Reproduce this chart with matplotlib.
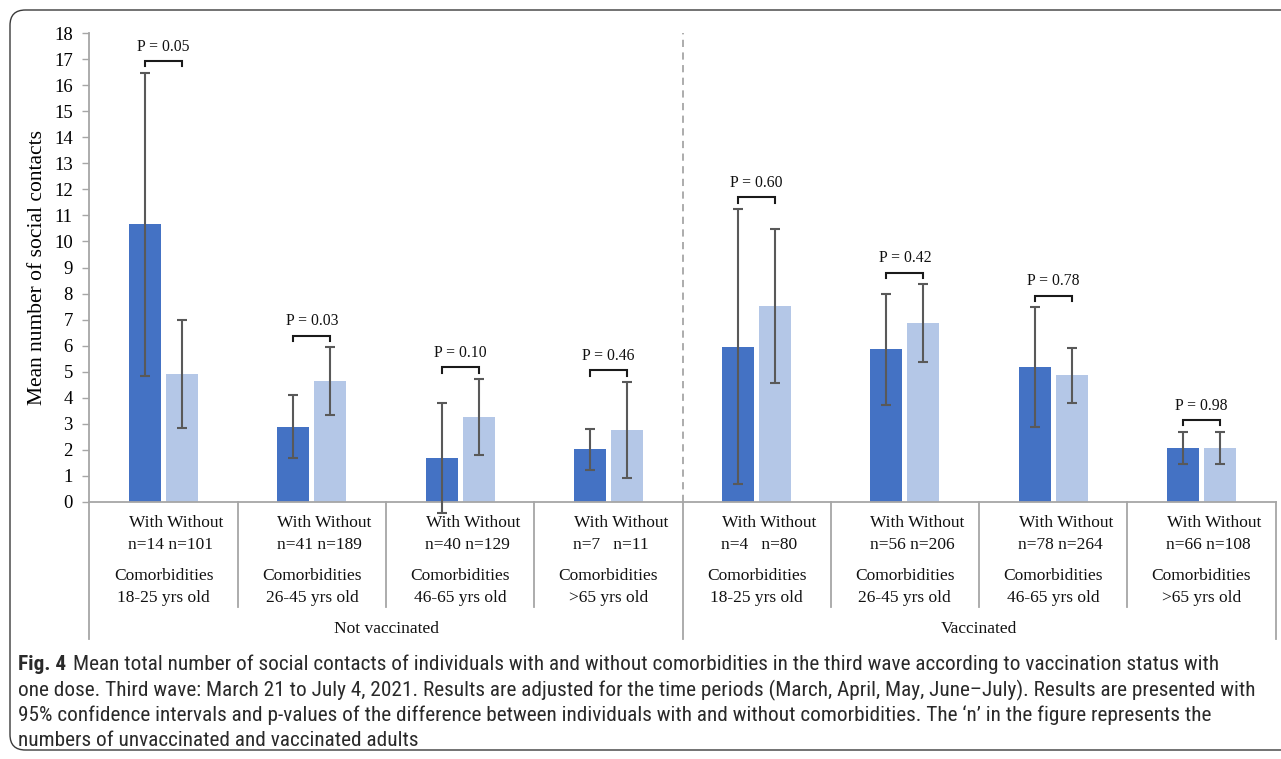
import matplotlib
matplotlib.use("Agg")
import matplotlib.pyplot as plt
from matplotlib import font_manager
from matplotlib.patches import FancyBboxPatch
import matplotlib.transforms as mtransforms

# ---- data -------------------------------------------------------------
age_groups = ["18-25 yrs old", "26-45 yrs old", "46-65 yrs old", ">65 yrs old"] * 2
n_labels = ["n=14 n=101", "n=41 n=189", "n=40 n=129", "n=7   n=11",
            "n=4   n=80", "n=56 n=206", "n=78 n=264", "n=66 n=108"]
status_labels = ["Not vaccinated", "Vaccinated"]

with_mean = [10.66, 2.89, 1.68, 2.02, 5.95, 5.86, 5.18, 2.07]
with_low = [4.83, 1.69, -0.43, 1.23, 0.69, 3.71, 2.89, 1.46]
with_high = [16.47, 4.10, 3.80, 2.80, 11.24, 7.99, 7.47, 2.69]

without_mean = [4.91, 4.64, 3.26, 2.76, 7.52, 6.87, 4.87, 2.07]
without_low = [2.83, 3.33, 1.80, 0.91, 4.58, 5.37, 3.79, 1.47]
without_high = [6.98, 5.94, 4.72, 4.60, 10.46, 8.35, 5.91, 2.69]

p_values = ["0.05", "0.03", "0.10", "0.46", "0.60", "0.42", "0.78", "0.98"]

# ---- styling ------------------------------------------------------------
SERIF = "Liberation Serif"
installed = {f.name for f in font_manager.fontManager.ttflist}
CAPTION_FONT = next((f for f in ["Roboto Condensed", "Liberation Sans Narrow",
                                 "Roboto", "Liberation Sans"] if f in installed),
                    "DejaVu Sans")

COL_WITH = "#4472C4"
COL_WITHOUT = "#B4C7E7"
GRID_GREY = "#A6A6A6"
ERR_GREY = "#595959"

W, H = 1281, 759
fig = plt.figure(figsize=(W / 100, H / 100), dpi=100)

ax_left, ax_right = 89.5 / W, 1275.5 / W
ax_top, ax_bottom = 1 - 33 / H, 1 - 502 / H
ax = fig.add_axes([ax_left, ax_bottom, ax_right - ax_left, ax_top - ax_bottom])

n_cat = len(with_mean)
x_with = [i + 0.375 for i in range(n_cat)]
x_without = [i + 0.625 for i in range(n_cat)]
bar_w = 0.215

ax.bar(x_with, with_mean, width=bar_w, color=COL_WITH, zorder=2)
ax.bar(x_without, without_mean, width=bar_w, color=COL_WITHOUT, zorder=2)

err_kw = dict(fmt="none", ecolor=ERR_GREY, elinewidth=1.5, capsize=3.4,
              capthick=1.5, zorder=3)
for xs, m, lo, hi in [(x_with, with_mean, with_low, with_high),
                      (x_without, without_mean, without_low, without_high)]:
    yerr = [[mm - l for mm, l in zip(m, lo)], [h - mm for mm, h in zip(m, hi)]]
    eb = ax.errorbar(xs, m, yerr=yerr, **err_kw)
    for artist in eb.lines[1] + eb.lines[2]:
        artist.set_clip_on(False)

# p-value brackets
for i in range(n_cat):
    top = max(with_high[i], without_high[i]) + 0.45
    ax.plot([x_with[i], x_with[i], x_without[i], x_without[i]],
            [top - 0.2, top, top, top - 0.2], color="#1a1a1a", lw=1.5,
            solid_joinstyle="miter", zorder=4)
    ax.text(i + 0.5, top + 0.55, f"P = {p_values[i]}", ha="center", va="center",
            family=SERIF, fontsize=11.3, color="#111111")

# axes
ax.set_xlim(0, n_cat)
ax.set_ylim(0, 18)
ax.set_yticks(range(0, 19))
ax.tick_params(axis="y", direction="out", length=5, width=1, color=GRID_GREY,
               labelsize=13.5, pad=7)
for lab in ax.get_yticklabels():
    lab.set_family(SERIF)
ax.set_xticks([])
for side in ["top", "right"]:
    ax.spines[side].set_visible(False)
for side in ["left", "bottom"]:
    ax.spines[side].set_color(GRID_GREY)
    ax.spines[side].set_linewidth(1.3)
ax.set_ylabel("Mean number of social contacts", family=SERIF, fontsize=15.5,
              labelpad=5)

# dashed divider between vaccination groups
ax.axvline(4, color=GRID_GREY, lw=1.3, ls=(0, (4, 3)), zorder=1)

# category table beneath the axis
trans = mtransforms.blended_transform_factory(ax.transData, ax.transAxes)
y_short, y_long = -0.224, -0.292
for i in range(n_cat + 1):
    y_end = y_long if i in (0, 4, 8) else y_short
    ax.plot([i, i], [0, y_end], transform=trans, color=GRID_GREY, lw=1.3,
            clip_on=False)

txt_kw = dict(transform=trans, family=SERIF, fontsize=12.5, color="#111111",
              clip_on=False)
for i in range(n_cat):
    left = x_with[i] - bar_w / 2
    ax.text(left, -0.045, "With Without", ha="left", va="center", **txt_kw)
    ax.text(left - 0.005, -0.092, n_labels[i], ha="left", va="center", **txt_kw)
    ax.text(i + 0.5, -0.158, "Comorbidities", ha="center", va="center", **txt_kw)
    ax.text(i + 0.5, -0.205, age_groups[i], ha="center", va="center", **txt_kw)
for k, label in enumerate(status_labels):
    ax.text(4 * k + 2, -0.271, label, ha="center", va="center", **txt_kw)

# rounded frame around figure and caption
frame = FancyBboxPatch((10 / W, 9 / H), 1.2, 1 - 19 / H,
                       boxstyle="round,pad=0,rounding_size=0.012",
                       transform=fig.transFigure, fill=False,
                       edgecolor="#3a3a3a", lw=1.0, mutation_aspect=W / H)
fig.add_artist(frame)

# caption
cap_kw = dict(family=CAPTION_FONT, fontsize=13, color="#2a2a2a")
head = fig.text(18 / W, 1 - 664 / H, "Fig. 4", weight="bold", ha="left",
                va="center", **cap_kw)
first = ax.annotate("Mean total number of social contacts of individuals with and without "
                    "comorbidities in the third wave according to vaccination status with",
                    xy=(1, 0), xycoords=head, xytext=(5, 0), textcoords="offset points",
                    ha="left", va="bottom", annotation_clip=False, **cap_kw)
caption_lines = [
    "one dose. Third wave: March 21 to July 4, 2021. Results are adjusted for the time "
    "periods (March, April, May, June\u2013July). Results are presented with",
    "95% confidence intervals and p-values of the difference between individuals with "
    "and without comorbidities. The \u2018n\u2019 in the figure represents the",
    "numbers of unvaccinated and vaccinated adults",
]
body = []
for k, line in enumerate(caption_lines):
    body.append(fig.text(18 / W, 1 - (690 + 25.5 * k) / H, line,
                         ha="left", va="center", **cap_kw))

# size the caption so that its long lines fit inside the frame
fig.canvas.draw()
renderer = fig.canvas.get_renderer()
x0 = head.get_window_extent(renderer).x0
widths = [(first.get_window_extent(renderer).x1 - x0, 1261 - 18),
          (body[0].get_window_extent(renderer).width, 1249 - 18),
          (body[1].get_window_extent(renderer).width, 1228 - 18)]
scale = min(target / actual for actual, target in widths)
for t in [head, first] + body:
    t.set_fontsize(t.get_fontsize() * scale)

fig.savefig("out.png", dpi=100)
